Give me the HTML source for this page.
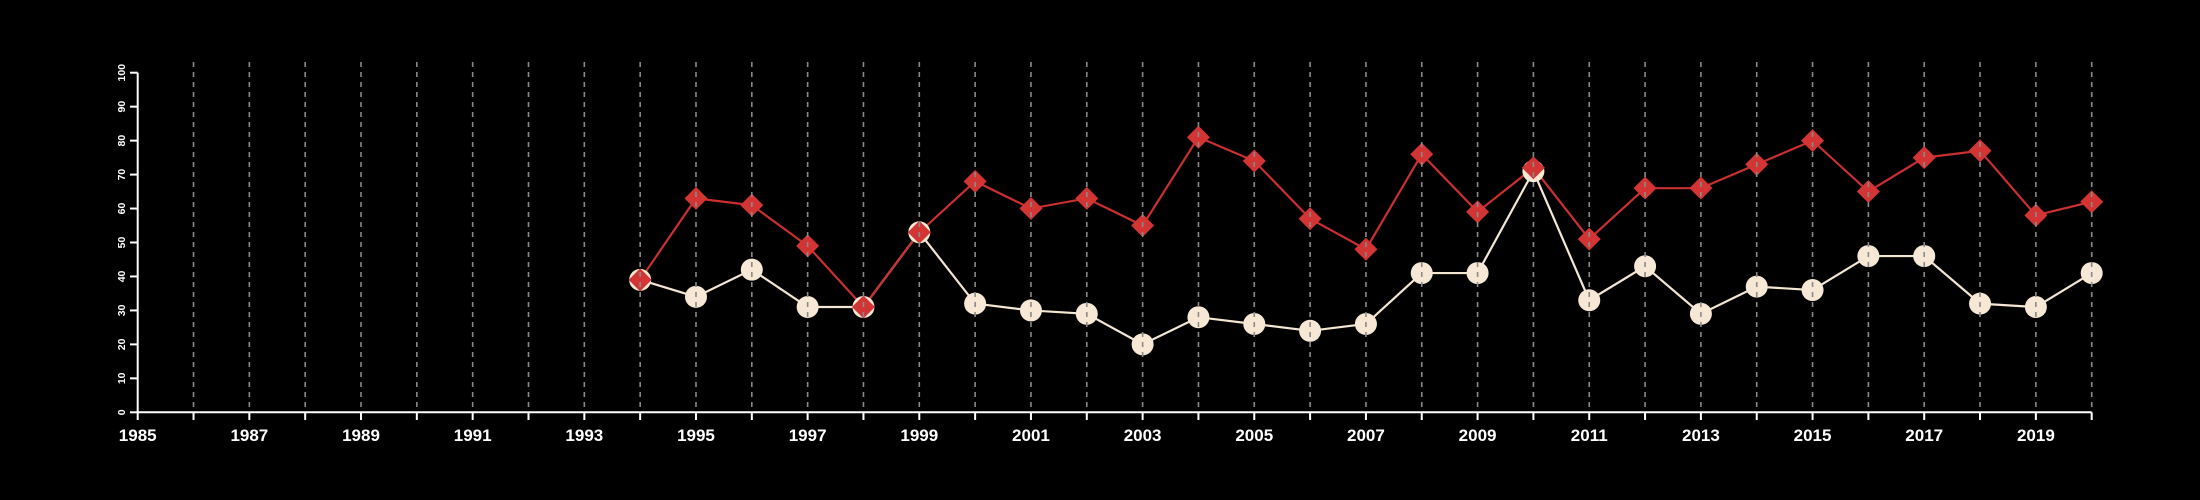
<!DOCTYPE html>
<html><head><meta charset="utf-8"><style>
html,body{margin:0;padding:0;background:#000;}
svg{display:block;font-family:"Liberation Sans",sans-serif;}
</style></head><body>
<svg id="chart" width="2200" height="500" viewBox="0 0 2200 500">
<rect width="2200" height="500" fill="#000"/>
<g id="grid"></g>
<g id="series"></g>
<g id="axes"></g>
</svg>
<script>
const years = [1994,1995,1996,1997,1998,1999,2000,2001,2002,2003,2004,2005,2006,2007,2008,2009,2010,2011,2012,2013,2014,2015,2016,2017,2018,2019,2020];
const redValues = [39,63,61,49,31,53,68,60,63,55,81,74,57,48,76,59,72,51,66,66,73,80,65,75,77,58,62];
const creamValues = [39,34,42,31,31,53,32,30,29,20,28,26,24,26,41,41,71,33,43,29,37,36,46,46,32,31,41];
const yTicks = [0,10,20,30,40,50,60,70,80,90,100];
const xMin = 1985, xMax = 2020;

const NS = 'http://www.w3.org/2000/svg';
const X = v => 137.7 + (v - xMin) * (2091.7 - 137.7) / (xMax - xMin);
const Y = v => 412.3 - v * (412.3 - 72.7) / 100;
function mk(tag, attrs, parent){const e=document.createElementNS(NS,tag);for(const k in attrs)e.setAttribute(k,attrs[k]);parent.appendChild(e);return e;}
const grid=document.getElementById('grid'), series=document.getElementById('series'), axes=document.getElementById('axes');

// series lines & markers
function drawLine(vals,color,name){
  const pts=years.map((y,i)=>X(y)+','+Y(vals[i])).join(' ');
  const l=mk('polyline',{points:pts,fill:'none',stroke:color,'stroke-width':2.2},series);
  
  
}
drawLine(creamValues,'#f3e6d2','cream-series-line');
drawLine(redValues,'#c9302f','red-series-line');
years.forEach((y,i)=>{
  const c=mk('circle',{cx:X(y),cy:Y(creamValues[i]),r:11,fill:'#f6e8d4'},series);
  
  
});
years.forEach((y,i)=>{
  const cx=X(y), cy=Y(redValues[i]), s=11.5;
  const d=mk('polygon',{points:`${cx},${cy-s} ${cx+s},${cy} ${cx},${cy+s} ${cx-s},${cy}`,fill:'#d33535'},series);
  
  
});

// gridlines (drawn over markers)
for(let yr=1986; yr<=xMax; yr++){
  const g=mk('line',{x1:X(yr),x2:X(yr),y1:62,y2:412,stroke:'#8a8a8a','stroke-width':1.6,'stroke-dasharray':'5,5'},axes);
  
  
}

// axes
const xa=mk('line',{x1:X(xMin),x2:X(xMax),y1:412.3,y2:412.3,stroke:'#fff','stroke-width':2},axes);


const ya=mk('line',{x1:137.7,x2:137.7,y1:Y(100),y2:Y(0),stroke:'#fff','stroke-width':2},axes);


for(let yr=xMin; yr<=xMax; yr++){
  const t=mk('line',{x1:X(yr),x2:X(yr),y1:412.3,y2:420,stroke:'#fff','stroke-width':2},axes);
  
  
  if((yr-xMin)%2===0){
    const tx=mk('text',{x:X(yr),y:441,'text-anchor':'middle',fill:'#fff','font-size':17,'font-weight':'bold'},axes);
    tx.textContent=yr;
    
    
  }
}
yTicks.forEach(v=>{
  const t=mk('line',{x1:130,x2:137.7,y1:Y(v),y2:Y(v),stroke:'#fff','stroke-width':2},axes);
  
  
  const tx=mk('text',{x:0,y:0,'text-anchor':'middle',fill:'#fff','font-size':10.5,'font-weight':'bold',transform:`translate(125,${Y(v)}) rotate(-90)`},axes);
  tx.textContent=v;
  
  
});
</script>
</body></html>
